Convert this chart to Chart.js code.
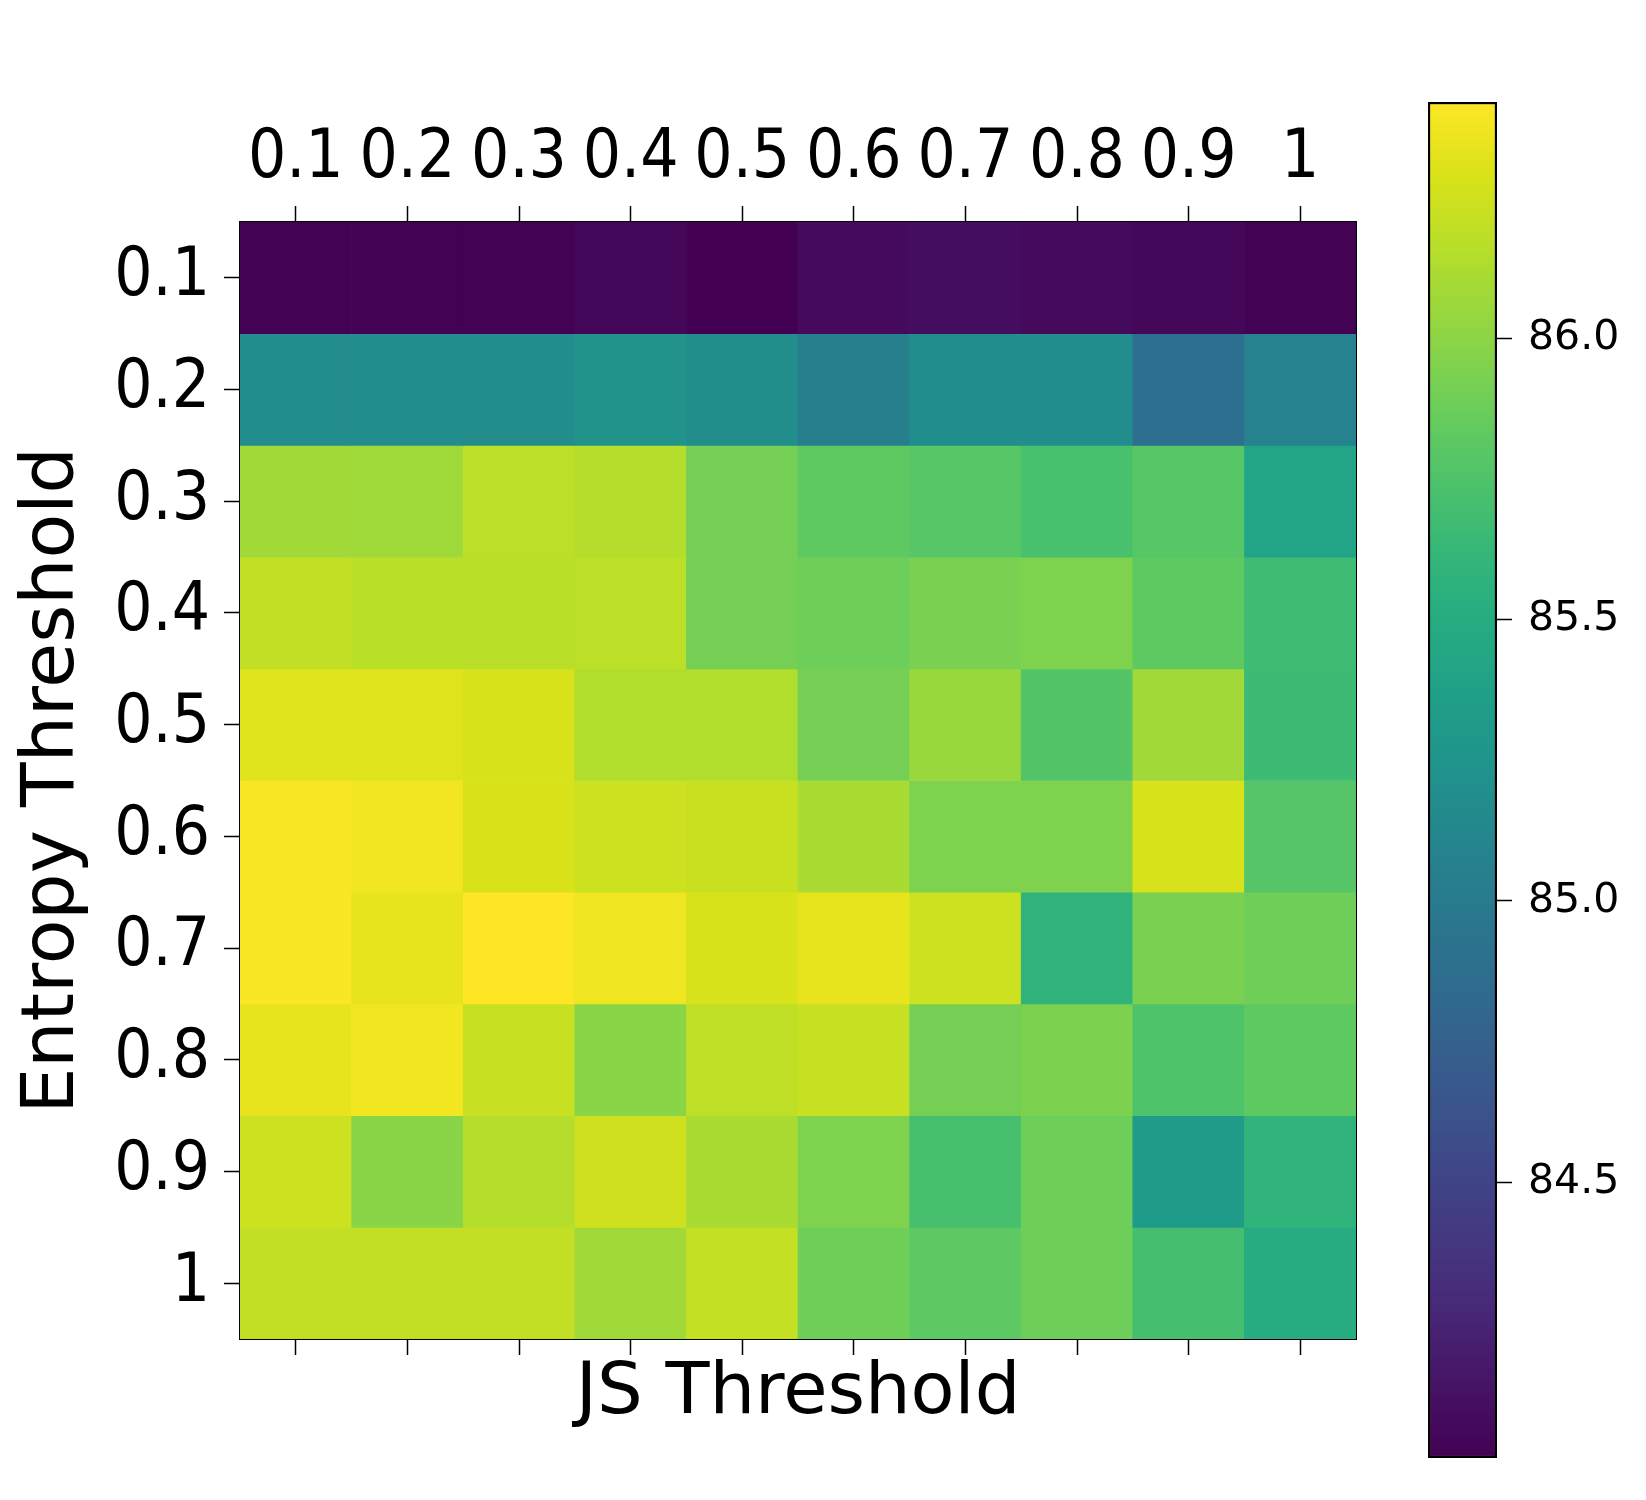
<!DOCTYPE html>
<html>
<head>
<meta charset="utf-8">
<script src="https://cdn.jsdelivr.net/npm/chart.js@4"></script>
<style>
  body { margin: 0; background: #fff; }
  #heat { position: absolute; left: 0; top: 0; }
  #cbar { position: absolute; left: 1400px; top: 0; }
</style>
</head>
<body>
<canvas id="heat" width="1400" height="1500"></canvas>
<canvas id="cbar" width="246" height="1500"></canvas>
<script>
const jsThresholds = ['0.1', '0.2', '0.3', '0.4', '0.5', '0.6', '0.7', '0.8', '0.9', '1'];
const entropyThresholds = ['0.1', '0.2', '0.3', '0.4', '0.5', '0.6', '0.7', '0.8', '0.9', '1'];

// one row per entropy threshold, one value per JS threshold
const scores = [
    [84.02, 84.02, 84.02, 84.05, 84.01, 84.07, 84.09, 84.07, 84.05, 84.02],
    [85.17, 85.17, 85.17, 85.24, 85.19, 85.05, 85.18, 85.18, 84.89, 85.08],
    [86.08, 86.07, 86.18, 86.15, 85.91, 85.83, 85.79, 85.72, 85.79, 85.41],
    [86.20, 86.17, 86.17, 86.18, 85.91, 85.88, 85.93, 85.95, 85.83, 85.67],
    [86.31, 86.31, 86.28, 86.14, 86.14, 85.91, 86.05, 85.77, 86.08, 85.66],
    [86.40, 86.38, 86.29, 86.24, 86.23, 86.11, 85.95, 85.95, 86.28, 85.78],
    [86.41, 86.34, 86.42, 86.37, 86.28, 86.34, 86.24, 85.58, 85.93, 85.89],
    [86.34, 86.38, 86.22, 85.99, 86.19, 86.22, 85.91, 85.94, 85.75, 85.83],
    [86.24, 85.99, 86.15, 86.25, 86.11, 85.95, 85.71, 85.88, 85.32, 85.58],
    [86.20, 86.20, 86.20, 86.08, 86.21, 85.89, 85.82, 85.88, 85.70, 85.50]
];
const colorbarTicks = [84.5, 85.0, 85.5, 86.0];

// viridis anchors
const viridis = [
    [0, '#440154'], [0.111, '#482878'], [0.125, '#472d7b'], [0.222, '#3e4989'],
    [0.25, '#3b528b'], [0.333, '#31688e'], [0.376, '#2c728e'], [0.444, '#26828e'],
    [0.5, '#21918c'], [0.556, '#1f9e89'], [0.627, '#28ae80'], [0.667, '#35b779'],
    [0.753, '#5ec962'], [0.778, '#6ece58'], [0.878, '#addc30'], [0.889, '#b5de2b'],
    [0.944, '#d8e219'], [1, '#fde725']
];

const allVals = scores.flat();
const vmin = Math.min(...allVals);
const vmax = Math.max(...allVals);

function hexRgb(h) {
    return [1, 3, 5].map(i => parseInt(h.substr(i, 2), 16));
}
function viridisAt(t) {
    t = Math.max(0, Math.min(1, t));
    for (let i = 1; i < viridis.length; i++) {
        if (t <= viridis[i][0]) {
            const [t0, c0] = viridis[i - 1];
            const [t1, c1] = viridis[i];
            const f = (t - t0) / (t1 - t0);
            const a = hexRgb(c0), b = hexRgb(c1);
            return `rgb(${a.map((v, k) => Math.round(v + (b[k] - v) * f)).join(',')})`;
        }
    }
    return viridis[viridis.length - 1][1];
}

Chart.defaults.font.family = "'DejaVu Sans', sans-serif";
Chart.defaults.color = '#000';

const tickFont = { family: "'DejaVu Sans Condensed', 'DejaVu Sans', sans-serif", size: 67, lineHeight: 1 };
const tickGrid = {
    drawOnChartArea: false, drawTicks: true, tickLength: 16,
    tickWidth: 1.5, tickColor: '#000', offset: false
};
const frame = { display: true, color: '#000', width: 2 };

new Chart(document.getElementById('heat'), {
    type: 'bar',
    data: {
        labels: jsThresholds,
        datasets: scores.map((row, r) => ({
            data: row.map(() => [r + 0.5, r + 1.5]),
            backgroundColor: row.map(v => viridisAt((v - vmin) / (vmax - vmin))),
            borderWidth: 0,
            barPercentage: 1,
            categoryPercentage: 1,
            xAxisID: 'x',
            yAxisID: 'y'
        }))
    },
    options: {
        responsive: false,
        animation: false,
        events: [],
        layout: { padding: 0 },
        plugins: { legend: { display: false }, tooltip: { enabled: false } },
        datasets: { bar: { grouped: false } },
        scales: {
            x: {
                type: 'category',
                position: 'top',
                offset: true,
                grid: tickGrid,
                border: frame,
                ticks: { font: tickFont, padding: 13, maxRotation: 0, autoSkip: false },
                afterFit: s => { s.height = 222; }
            },
            x2: {
                type: 'category',
                position: 'bottom',
                labels: jsThresholds,
                offset: true,
                grid: tickGrid,
                border: frame,
                ticks: { display: false, autoSkip: false },
                title: { display: true, text: 'JS Threshold', font: { size: 72, lineHeight: 1 }, padding: { top: 0, bottom: 70 } },
                afterFit: s => { s.height = 161; }
            },
            y: {
                type: 'linear',
                position: 'left',
                min: 0.5,
                max: 10.5,
                reverse: true,
                grid: tickGrid,
                border: frame,
                afterBuildTicks: s => { s.ticks = entropyThresholds.map((_, i) => ({ value: i + 1 })); },
                ticks: {
                    font: tickFont,
                    padding: 14,
                    autoSkip: false,
                    callback: v => entropyThresholds[Math.round(v) - 1]
                },
                title: { display: true, text: 'Entropy Threshold', font: { size: 73, lineHeight: 1 }, padding: { top: 18, bottom: 0 } },
                afterFit: s => { s.width = 240; }
            },
            y2: {
                type: 'linear',
                position: 'right',
                min: 0.5,
                max: 10.5,
                grid: { drawOnChartArea: false, drawTicks: false },
                border: frame,
                ticks: { display: false },
                afterFit: s => { s.width = 44; }
            }
        }
    }
});

new Chart(document.getElementById('cbar'), {
    type: 'bar',
    data: {
        labels: [''],
        datasets: [{
            data: [[vmin, vmax]],
            backgroundColor: c => {
                const area = c.chart.chartArea;
                if (!area) return null;
                const g = c.chart.ctx.createLinearGradient(0, area.bottom, 0, area.top);
                viridis.forEach(([t, col]) => g.addColorStop(t, col));
                return g;
            },
            borderColor: '#000',
            borderWidth: 2.5,
            borderSkipped: false,
            barPercentage: 1,
            categoryPercentage: 1
        }]
    },
    options: {
        responsive: false,
        animation: false,
        events: [],
        layout: { padding: { left: 28, top: 102, bottom: 42, right: 0 } },
        plugins: { legend: { display: false }, tooltip: { enabled: false } },
        scales: {
            x: { display: false },
            y: {
                position: 'right',
                min: vmin,
                max: vmax,
                grid: { drawOnChartArea: false, drawTicks: true, tickLength: 15, tickWidth: 1.5, tickColor: '#000' },
                border: { display: false },
                afterBuildTicks: s => { s.ticks = colorbarTicks.map(v => ({ value: v })); },
                ticks: { font: { size: 41 }, padding: 16, callback: v => v.toFixed(1) },
                afterFit: s => { s.width = 149; }
            }
        }
    }
});
</script>
</body>
</html>
